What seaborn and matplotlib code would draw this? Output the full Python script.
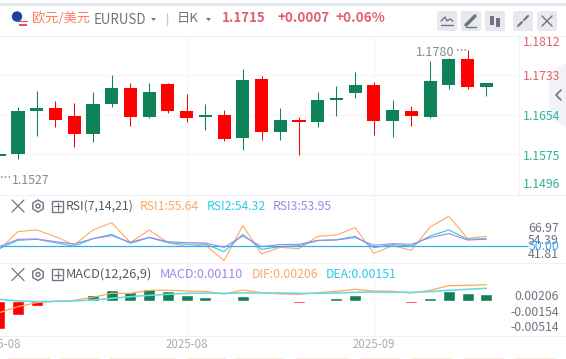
import pandas as pd
import matplotlib
matplotlib.use('agg')
import matplotlib.pyplot as plt
from matplotlib.patches import Circle, FancyBboxPatch, Polygon, Rectangle, RegularPolygon
import seaborn as sns

# candles, green = up, red = down
opens = [1.1572, 1.1576, 1.1662, 1.1668, 1.1652, 1.1616, 1.1676, 1.1708, 1.1650, 1.1716, 1.1662, 1.1650, 1.1654, 1.1608,
         1.1726, 1.1620, 1.1644, 1.1640, 1.1684, 1.1698, 1.1714, 1.1642, 1.1662, 1.1650, 1.1714, 1.1766, 1.1710]
highs = [1.1576, 1.1670, 1.1702, 1.1682, 1.1678, 1.1700, 1.1734, 1.1718, 1.1718, 1.1718, 1.1696, 1.1676, 1.1664, 1.1746,
         1.1732, 1.1668, 1.1650, 1.1700, 1.1712, 1.1740, 1.1720, 1.1684, 1.1672, 1.1762, 1.1768, 1.1784, 1.1718]
lows = [1.1572, 1.1566, 1.1612, 1.1630, 1.1590, 1.1600, 1.1670, 1.1632, 1.1648, 1.1658, 1.1640, 1.1624, 1.1602, 1.1584,
        1.1604, 1.1604, 1.1574, 1.1630, 1.1652, 1.1688, 1.1614, 1.1610, 1.1632, 1.1648, 1.1706, 1.1706, 1.1692]
closes = [1.1576, 1.1662, 1.1668, 1.1644, 1.1616, 1.1676, 1.1708, 1.1650, 1.1700, 1.1662, 1.1648, 1.1654, 1.1606, 1.1724,
          1.1620, 1.1644, 1.1640, 1.1684, 1.1688, 1.1714, 1.1642, 1.1664, 1.1652, 1.1722, 1.1766, 1.1710, 1.1718]

rsi1 = [47.1, 64.0, 65.6, 59.2, 51.3, 65.6, 72.5, 53.5, 65.6, 53.5, 49.7, 51.3, 36.3, 69.7,
        42.7, 49.0, 47.8, 59.5, 60.8, 67.8, 43.3, 50.6, 46.2, 68.4, 78.6, 57.6, 59.5]
rsi2 = [47.8, 55.7, 56.7, 53.5, 50.0, 57.3, 61.4, 52.9, 58.3, 53.5, 51.9, 52.2, 44.9, 61.4,
        47.1, 49.7, 50.6, 55.4, 56.3, 59.5, 48.7, 51.6, 50.3, 59.8, 65.6, 56.7, 57.3]
rsi3 = [49.7, 56.7, 57.0, 54.4, 52.2, 57.3, 60.2, 53.8, 58.6, 54.4, 53.5, 53.2, 49.0, 59.8,
        49.7, 51.6, 51.9, 55.7, 56.0, 58.3, 51.0, 52.5, 51.9, 58.3, 62.1, 56.0, 56.7]

macd_hist = [-0.0067, -0.0034, -0.0012, -0.0001, 0.0002, 0.00144, 0.00264, 0.00216, 0.00288, 0.0024, 0.00144, 0.00096, -0.00016, 0.0012,
             0.00016, -0.00016, -0.0004, 0.00016, 0.00072, 0.00144, 0.00016, 0.00016, -0.0004, 0.00072, 0.0024, 0.00192, 0.00168]
dif = [-0.0028, -0.00136, -0.0004, -0.00008, 0.00016, 0.00088, 0.00184, 0.00184, 0.00256, 0.00256, 0.0024, 0.00232, 0.00168, 0.00264,
       0.002, 0.00168, 0.0016, 0.002, 0.00232, 0.0028, 0.0024, 0.00232, 0.00192, 0.00256, 0.00368, 0.00376, 0.00392]
dea = [0.0004, 0.0, -0.00016, -0.00008, 0.0, 0.00024, 0.00064, 0.00104, 0.00136, 0.0016, 0.00184, 0.00192, 0.00184, 0.00192,
       0.00192, 0.00192, 0.00184, 0.00184, 0.00192, 0.00208, 0.00216, 0.00208, 0.00208, 0.00224, 0.00256, 0.0028, 0.00304]

price_grid = [1.1733, 1.1654, 1.1575]
price_labels = ['1.1812', '1.1733', '1.1654', '1.1575', '1.1496']
rsi_labels = ['66.97', '54.39', '41.81']
macd_labels = ['0.00206', '-0.00154', '-0.00514']
month_pos = [0, 10, 20]
month_labels = ['2025-08', '2025-08', '2025-09']

RED = '#ff0000'
GREEN = '#108257'
TXT_RED = '#e2606c'
TXT_GREEN = '#2fb39a'
GRAY = '#6f7480'
ORANGE = '#ffa85c'
CYAN = '#2ccbe6'
PURPLE = '#a585ea'
GRID = '#f3f4f6'
W, H = 566, 359
STEP = 18.73  # pixels per candle
X0 = -0.7

sns.set_theme(style='white')
plt.rcParams['font.family'] = ['Noto Sans CJK SC', 'DejaVu Sans']

fig = plt.figure(figsize=(W / 100, H / 100), dpi=100, facecolor='white')


def pane(top, bottom, ymin, ymax):
    ax = fig.add_axes([0, 1 - bottom / H, 519 / W, (bottom - top) / H])
    ax.set_xlim(-X0 / STEP, (519 - X0) / STEP)
    ax.set_ylim(ymin, ymax)
    ax.set_xticks([])
    ax.set_yticks([])
    ax.set_xlabel('')
    ax.set_ylabel('')
    sns.despine(ax=ax, left=True, bottom=True)
    ax.patch.set_alpha(0)
    for m in month_pos[1:]:
        ax.axvline(m, color=GRID, lw=0.8, zorder=0)
    return ax


df = pd.DataFrame({'i': range(len(opens)), 'o': opens, 'h': highs, 'l': lows, 'c': closes,
                   'rsi1': rsi1, 'rsi2': rsi2, 'rsi3': rsi3, 'hist': macd_hist, 'dif': dif, 'dea': dea})
df['col'] = [GREEN if c >= o else RED for o, c in zip(df.o, df.c)]

# main candles
ax = pane(36, 195, 1.14936, 1.18116)
for g in price_grid:
    ax.axhline(g, color=GRID, lw=0.8, zorder=0)
ax.vlines(df.i, df.l, df.h, colors=df.col, lw=0.75, zorder=2)
ax.bar(df.i, (df.c - df.o).abs(), bottom=df[['o', 'c']].min(axis=1), width=0.7, color=df.col, lw=0, zorder=3)

# rsi
ax2 = pane(195, 263.3, 33.8, 98.9)
sns.lineplot(data=df, x='i', y='rsi1', ax=ax2, color=ORANGE, lw=0.8, zorder=3)
sns.lineplot(data=df, x='i', y='rsi2', ax=ax2, color=CYAN, lw=0.8, zorder=3)
sns.lineplot(data=df, x='i', y='rsi3', ax=ax2, color=PURPLE, lw=0.8, zorder=3)
ax2.hlines(50, ax2.get_xlim()[0], (528 - X0) / STEP, color='#3fa9f5', lw=0.9, zorder=4, clip_on=False)
ax2.set_xlabel('')
ax2.set_ylabel('')

# macd
ax3 = pane(263.3, 336, -0.0084, 0.00904)
sns.barplot(data=df, x='i', y='hist', hue='i', palette=[GREEN if v > 0 else RED for v in macd_hist], legend=False,
            native_scale=True, dodge=False, width=0.64, ax=ax3, saturation=1, zorder=2)
sns.lineplot(data=df, x='i', y='dif', ax=ax3, color=ORANGE, lw=0.9, zorder=3)
sns.lineplot(data=df, x='i', y='dea', ax=ax3, color='#6fd8e6', lw=1.2, zorder=4)
ax3.set_xlim(-X0 / STEP, (519 - X0) / STEP)
ax3.set_ylim(-0.0084, 0.00904)
ax3.set_xticks([])
ax3.set_yticks([])
ax3.set_xlabel('')
ax3.set_ylabel('')

# overlay in pixel coordinates for the header, labels and icons
ov = fig.add_axes([0, 0, 1, 1], zorder=10)
ov.set_xlim(0, W)
ov.set_ylim(H, 0)
ov.axis('off')
ov.patch.set_alpha(0)

ov.plot([0, W], [4, 4], color='#e4e8ee', lw=2)
for y in [36, 195, 263.3, 336]:
    ov.plot([0, W], [y, y], color='#f0f1f4', lw=0.8)
ov.plot([518.7, 518.7], [36, 195], color='#f0f1f4', lw=0.8)
ov.add_patch(Polygon([(566, 63), (549.3, 72), (549.3, 118), (566, 127)], color='#f2f3f6', lw=0))
ov.plot([561, 556, 561], [90, 95, 100], color=GRAY, lw=1.2)


def label(x, y, s, color=GRAY, size=8.8, ha='left', **kw):
    ov.text(x, y, s, color=color, fontsize=size, ha=ha, va='center', **kw)


# header
ov.add_patch(Circle((22.5, 22), 5, color='#f4f4f6', lw=0))
ov.add_patch(Rectangle((17.5, 20.5), 10, 1.6, color='#d9535f', lw=0))
ov.add_patch(Rectangle((18.5, 24), 8, 1.6, color='#d9535f', lw=0))
ov.add_patch(Circle((17, 16.5), 5.2, color='#1f3f9e', lw=0))
label(32, 18.5, '欧元/美元', color='#ff7d5c', size=9.5)
label(94, 20, 'EURUSD', color=GRAY, size=9.6)
ov.add_patch(Polygon([(151, 18), (156, 18), (153.5, 21)], color=GRAY, lw=0))
ov.plot([167, 167], [13, 25], color='#c8cbd2', lw=1)
label(177, 18.5, '日K', color=GRAY, size=9.5)
ov.add_patch(Polygon([(206, 18), (211, 18), (208.5, 21)], color=GRAY, lw=0))
label(222, 18.5, '1.1715', color=TXT_RED, size=9.6, fontweight='bold')
label(278, 18.5, '+0.0007', color=TXT_RED, size=9.6, fontweight='bold')
label(336, 18.5, '+0.06%', color=TXT_RED, size=9.8, fontweight='bold')

# header buttons
for bx in [437, 461, 485, 513, 537]:
    ov.add_patch(FancyBboxPatch((bx + 2, 13), 16, 16, boxstyle='round,pad=2', color='#e7e9ef', lw=0))
ov.plot([441, 445, 447, 450, 453], [21, 17, 21, 19, 21], color=GRAY, lw=1)
ov.plot([441, 453], [25, 25], color=GRAY, lw=1)
ov.plot([466, 475], [25, 16], color=GRAY, lw=2.5)
ov.plot([466, 476], [27, 27], color=GRAY, lw=1)
ov.add_patch(Rectangle((490, 16), 4, 9, color=GRAY, lw=0))
ov.add_patch(Rectangle((496, 18), 4, 9, color=GRAY, lw=0))
ov.plot([518, 522], [26, 22], color=GRAY, lw=1.5)
ov.plot([528, 524], [16, 20], color=GRAY, lw=1.5)
ov.plot([542, 552], [16, 26], color=GRAY, lw=1)
ov.plot([552, 542], [16, 26], color=GRAY, lw=1)

# high / low marks
label(416, 52, '1.1780', color='#85899a', size=9.1)
ov.plot([457, 468], [49.5, 49.5], color='#85899a', lw=1.1, ls=(0, (1, 1.5)))
label(12, 181, '1.1527', color='#85899a', size=8.9)
ov.plot([1, 10], [177, 177], color='#85899a', lw=1.1, ls=(0, (1, 1.5)))

# right price labels
for s, y, c in zip(price_labels, [43, 76, 116, 156, 185], [TXT_RED, TXT_RED, TXT_GREEN, TXT_GREEN, TXT_GREEN]):
    label(560, y, s, color=c, size=8.8, ha='right')
for s, y in zip(rsi_labels, [228.5, 240, 255]):
    label(559, y, s, size=8.9, ha='right')
label(559, 247, '50.00', color='#3fa9f5', size=8.9, ha='right')
for s, y in zip(macd_labels, [297, 313, 327.5]):
    label(559, y, s, size=8.8, ha='right')


# pane title rows
def pane_icons(y):
    ov.plot([12, 24], [y - 6, y + 6], color=GRAY, lw=0.9)
    ov.plot([24, 12], [y - 6, y + 6], color=GRAY, lw=0.9)
    ov.add_patch(RegularPolygon((38, y), 6, radius=6, fill=False, ec=GRAY, lw=1))
    ov.add_patch(Circle((38, y), 2, fill=False, ec=GRAY, lw=1))
    ov.add_patch(Rectangle((52, y - 5.5), 11, 11, fill=False, ec=GRAY, lw=1))
    ov.plot([54, 61], [y, y], color=GRAY, lw=0.9)
    ov.plot([57.5, 57.5], [y - 3.5, y + 3.5], color=GRAY, lw=0.9)


pane_icons(206)
label(66, 206, 'RSI(7,14,21)', color='#555a66')
label(140, 206, 'RSI1:55.64', color=ORANGE)
label(207, 206, 'RSI2:54.32', color=CYAN)
label(273, 206, 'RSI3:53.95', color=PURPLE)
pane_icons(274.5)
label(66, 274.5, 'MACD(12,26,9)', color='#555a66', size=9.2)
label(160, 274.5, 'MACD:0.00110', color=PURPLE, size=9.1)
label(252, 274.5, 'DIF:0.00206', color=ORANGE)
label(326, 274.5, 'DEA:0.00151', color=CYAN)

# month labels, first one runs off the left edge
for m, s in zip(month_pos, month_labels):
    ov.text(X0 + STEP * m, 344.7, s, color='#a8acb8', fontsize=8.3, ha='center', va='center')

# strip at the bottom edge
for a, b in [(8, 49), (61, 98), (110, 176), (187, 225), (233, 283), (296, 350), (360, 400), (411, 451), (463, 503), (513, 555)]:
    ov.plot([a, b], [358.5, 358.5], color='#dfa652', lw=1)

fig.savefig('out.png', dpi=100)
